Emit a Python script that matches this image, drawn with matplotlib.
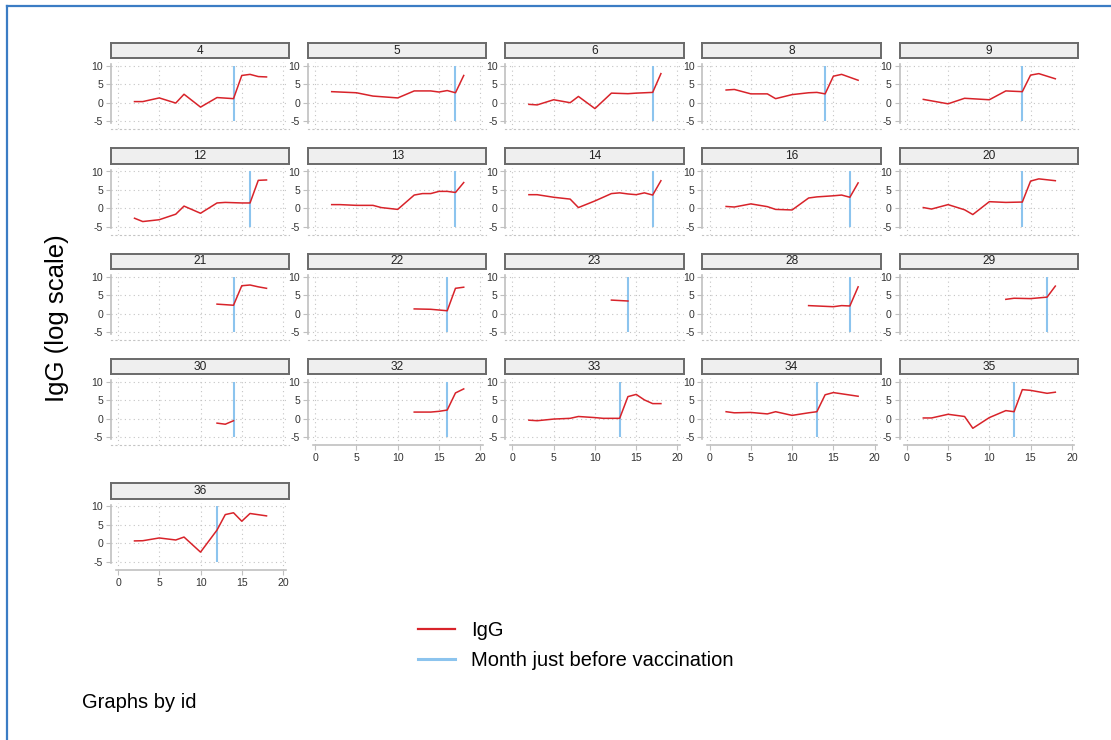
import matplotlib
matplotlib.use("Agg")
import matplotlib.pyplot as plt
from matplotlib.lines import Line2D

plt.rcParams['font.family'] = ['Liberation Sans', 'DejaVu Sans']
plt.rcParams['axes.unicode_minus'] = False

# one entry per subject id: months measured, IgG (log scale), month just before vaccination
ids = [4, 5, 6, 8, 9, 12, 13, 14, 16, 20, 21, 22, 23, 28, 29, 30, 32, 33, 34, 35, 36]

months = [
    [2, 3, 5, 7, 8, 10, 12, 14, 15, 16, 17, 18],
    [2, 5, 7, 10, 12, 14, 15, 16, 17, 18],
    [2, 3, 5, 7, 8, 10, 12, 14, 15, 17, 18],
    [2, 3, 5, 7, 8, 10, 12, 13, 14, 15, 16, 18],
    [2, 5, 7, 10, 12, 14, 15, 16, 18],
    [2, 3, 5, 7, 8, 10, 12, 13, 15, 16, 17, 18],
    [2, 3, 5, 7, 8, 10, 12, 13, 14, 15, 16, 17, 18],
    [2, 3, 5, 7, 8, 10, 12, 13, 14, 15, 16, 17, 18],
    [2, 3, 5, 7, 8, 10, 12, 13, 15, 16, 17, 18],
    [2, 3, 5, 7, 8, 10, 12, 14, 15, 16, 18],
    [12, 14, 15, 16, 17, 18],
    [12, 14, 15, 16, 17, 18],
    [12, 14],
    [12, 15, 16, 17, 18],
    [12, 13, 15, 17, 18],
    [12, 13, 14],
    [12, 14, 15, 16, 17, 18],
    [2, 3, 5, 7, 8, 10, 11, 13, 14, 15, 16, 17, 18],
    [2, 3, 5, 7, 8, 10, 12, 13, 14, 15, 18],
    [2, 3, 5, 7, 8, 10, 12, 13, 14, 15, 17, 18],
    [2, 3, 5, 7, 8, 10, 12, 13, 14, 15, 16, 18],
]

igg = [
    [0.3, 0.3, 1.3, -0.1, 2.3, -1.2, 1.4, 1.1, 7.4, 7.7, 7.1, 7.0],
    [3.0, 2.7, 1.8, 1.3, 3.2, 3.2, 2.9, 3.3, 2.7, 7.4],
    [-0.45, -0.6, 0.8, 0.0, 1.7, -1.6, 2.6, 2.45, 2.6, 2.8, 7.9],
    [3.45, 3.6, 2.4, 2.4, 1.1, 2.2, 2.7, 2.8, 2.4, 7.2, 7.7, 6.1],
    [0.9, -0.3, 1.2, 0.8, 3.2, 3.0, 7.5, 7.9, 6.5],
    [-2.7, -3.6, -3.1, -1.6, 0.6, -1.35, 1.45, 1.6, 1.45, 1.45, 7.6, 7.7],
    [1.0, 1.0, 0.8, 0.8, 0.2, -0.3, 3.6, 4.0, 4.0, 4.6, 4.6, 4.3, 7.0],
    [3.7, 3.7, 3.0, 2.5, 0.2, 2.0, 4.0, 4.2, 3.9, 3.7, 4.2, 3.6, 7.5],
    [0.5, 0.35, 1.2, 0.45, -0.3, -0.45, 2.8, 3.1, 3.4, 3.6, 3.0, 6.9],
    [0.2, -0.2, 1.0, -0.4, -1.7, 1.8, 1.6, 1.7, 7.4, 8.0, 7.5],
    [2.6, 2.3, 7.6, 7.8, 7.3, 6.9],
    [1.3, 1.2, 1.0, 0.8, 6.9, 7.2],
    [3.7, 3.45],
    [2.2, 1.9, 2.2, 2.1, 7.3],
    [3.9, 4.2, 4.1, 4.5, 7.5],
    [-1.2, -1.5, -0.55],
    [1.8, 1.8, 2.0, 2.35, 7.0, 8.1],
    [-0.4, -0.55, -0.1, 0.1, 0.6, 0.3, 0.1, 0.1, 6.0, 6.6, 5.1, 4.1, 4.1],
    [1.9, 1.6, 1.7, 1.3, 1.9, 0.9, 1.6, 1.9, 6.5, 7.1, 6.1],
    [0.2, 0.2, 1.2, 0.6, -2.6, 0.3, 2.2, 1.9, 7.9, 7.7, 6.9, 7.2],
    [0.65, 0.7, 1.45, 0.9, 1.7, -2.4, 3.6, 7.8, 8.3, 6.0, 8.1, 7.45],
]

vacc_month = [14, 17, 17, 14, 14, 16, 17, 17, 17, 14, 14, 16, 14, 17, 17, 14, 16, 13, 13, 13, 12]

xticks = [0, 5, 10, 15, 20]
yticks = [-5, 0, 5, 10]

RED = '#d8232a'
BLUE = '#8cc4ee'
GRID = '#c4c4c4'
AXIS = '#c0c0c0'

W, H = 1111, 740
fig = plt.figure(figsize=(W / 100, H / 100), dpi=100)


def box(left, top, width, height):
    return [left / W, 1 - (top + height) / H, width / W, height / H]


ncol = 5
row_zero = [102.7, 208.3, 313.7, 418.7, 543.3]  # pixel row of y = 0 in each row
px_unit = 3.68
col_w = 178.6

for k, pid in enumerate(ids):
    r, c = divmod(k, ncol)
    left = 110.7 + 197.2 * c
    top = row_zero[r] - 11.0 * px_unit
    height = 18.25 * px_unit
    ax = fig.add_axes(box(left, top, col_w, height))
    sax = fig.add_axes(box(left, row_zero[r] - 60.0, col_w, 15.6))

    ax.plot(months[k], igg[k], color=RED, lw=1.1, zorder=3)
    ax.vlines(vacc_month[k], yticks[0], yticks[-1], color=BLUE, lw=1.5, zorder=2)

    ax.set_xlim(-0.885, 20.76)
    ax.set_ylim(-7.25, 11.0)
    ax.set_xticks(xticks)
    ax.set_yticks(yticks)
    ax.grid(True, color=GRID, ls=(0, (1, 3)), lw=0.8)
    ax.set_axisbelow(True)
    for s in ['top', 'right']:
        ax.spines[s].set_visible(False)
    ax.spines['left'].set_color(AXIS)
    ax.spines['left'].set_linewidth(1.2)
    ax.spines['left'].set_bounds(-5.4, 10.4)
    ax.tick_params(axis='y', length=3.5, width=0.8, color=AXIS, labelsize=7.6,
                   labelcolor='#333333', pad=2)

    has_below = k + ncol < len(ids)
    if has_below:
        ax.spines['bottom'].set_color(GRID)
        ax.spines['bottom'].set_linestyle((0, (1, 3)))
        ax.spines['bottom'].set_linewidth(0.8)
        ax.tick_params(axis='x', length=0, labelbottom=False)
    else:
        ax.spines['bottom'].set_color(AXIS)
        ax.spines['bottom'].set_linewidth(1.2)
        ax.spines['bottom'].set_bounds(-0.3, 20.3)
        ax.tick_params(axis='x', length=3.5, width=0.8, color=AXIS, labelsize=7.6,
                       labelcolor='#333333', pad=2)

    sax.set_facecolor('#efefef')
    sax.set_xticks([])
    sax.set_yticks([])
    for s in sax.spines.values():
        s.set_color('#6a6a6a')
        s.set_linewidth(1.4)
    sax.text(0.5, 0.5, str(pid), ha='center', va='center', fontsize=8.6,
             color='#222222', transform=sax.transAxes)

fig.text(57 / W, 1 - 318 / H, 'IgG (log scale)', rotation=90, ha='center',
         va='center', fontsize=18.5)

handles = [Line2D([], [], color=RED, lw=1.6), Line2D([], [], color=BLUE, lw=2.2)]
fig.legend(handles, ['IgG', 'Month just before vaccination'], loc='upper left',
           bbox_to_anchor=(400 / W, 1 - 603 / H), frameon=False, fontsize=14.5,
           handlelength=1.85, handletextpad=0.8, labelspacing=0.55)

fig.text(82 / W, 1 - 703 / H, 'Graphs by id', ha='left', va='center', fontsize=14.5)

# blue frame of the graph window
fig.add_artist(Line2D([7 / W, 1], [1 - 6 / H, 1 - 6 / H], color='#3b7cc4', lw=1.6))
fig.add_artist(Line2D([7 / W, 7 / W], [1 - 6 / H, 0], color='#3b7cc4', lw=1.6))

fig.savefig('out.png', dpi=100)
